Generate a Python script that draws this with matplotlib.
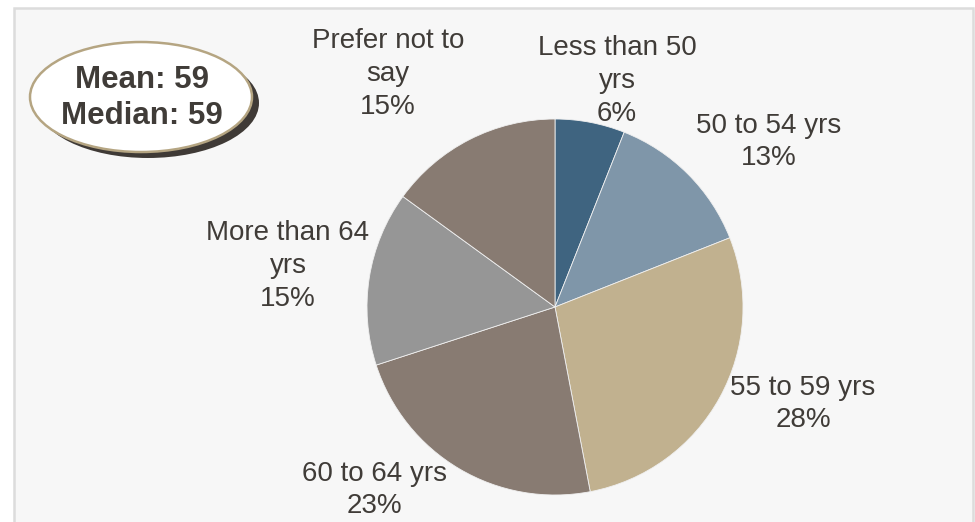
import matplotlib
matplotlib.use("Agg")
import matplotlib.pyplot as plt
from matplotlib.patches import Ellipse, Rectangle

categories = ["Less than 50\nyrs", "50 to 54 yrs", "55 to 59 yrs", "60 to 64 yrs",
              "More than 64\nyrs", "Prefer not to\nsay"]
values = [6, 13, 28, 23, 15, 15]
colors = ["#3f6480", "#7f96a9", "#c1b18f", "#887b72", "#969696", "#887b72"]
mean_value = 59
median_value = 59

# label block centres in pixel coordinates (x, y from top)
label_pos = [(617, 81), (769, 142), (803, 404), (374, 490), (288, 266), (388, 74)]

W, H = 975, 522
fig = plt.figure(figsize=(W / 100, H / 100), dpi=100)
fig.patch.set_facecolor("white")

bg = fig.add_axes([0, 0, 1, 1])
bg.set_xlim(0, W)
bg.set_ylim(H, 0)
bg.axis("off")
bg.add_patch(Rectangle((14, 8), 959, 530, facecolor="#f7f7f7", edgecolor="#dcdcdc", lw=1.8))

cx, cy, r = 555, 307, 188
pie_ax = fig.add_axes([(cx - r) / W, (H - cy - r) / H, 2 * r / W, 2 * r / H])
pie_ax.pie(values, colors=colors, startangle=90, counterclock=False, radius=1,
           wedgeprops=dict(edgecolor="#f0f0f0", linewidth=0.6))
pie_ax.set_xlim(-1, 1)
pie_ax.set_ylim(-1, 1)
pie_ax.set_aspect("equal")
pie_ax.axis("off")

ov = fig.add_axes([0, 0, 1, 1])
ov.set_xlim(0, W)
ov.set_ylim(H, 0)
ov.axis("off")
ov.patch.set_alpha(0)

txt_color = "#403c38"
for cat, v, (x, y) in zip(categories, values, label_pos):
    ov.text(x, y, f"{cat}\n{v}%", ha="center", va="center", multialignment="center",
            fontsize=20, color=txt_color, family="Liberation Sans", linespacing=1.34)

# mean / median callout
ov.add_patch(Ellipse((148, 103), 222, 110, facecolor="#3f3a36", edgecolor="none"))
ov.add_patch(Ellipse((141, 97), 222, 110, facecolor="white", edgecolor="#b5a582", lw=1.8))
ov.text(142, 98, f"Mean: {mean_value}\nMedian: {median_value}", ha="center", va="center",
        multialignment="center", fontsize=22.5, fontweight="bold", color=txt_color,
        family="Liberation Sans", linespacing=1.25)

fig.savefig("out.png", dpi=100, facecolor="white")
